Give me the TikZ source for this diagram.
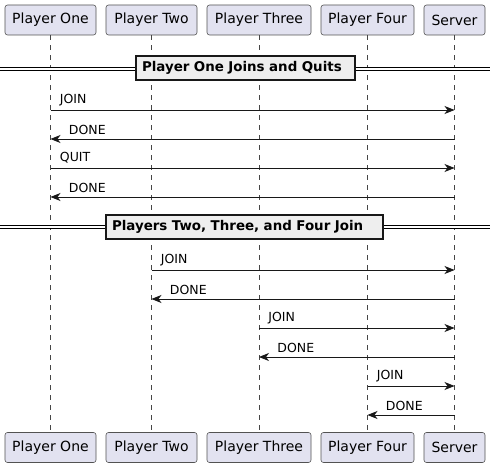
\documentclass[tikz,border=0pt]{standalone}
\usepackage{fontspec}
\setmainfont{DejaVu Sans}
\usetikzlibrary{arrows.meta}
\definecolor{pfill}{HTML}{E2E2F0}
\definecolor{pline}{HTML}{181818}
\definecolor{dfill}{HTML}{EEEEEE}
\begin{document}
\begin{tikzpicture}[x=1pt,y=-1pt,
  part/.style={draw=pline!75, fill=pfill, rounded corners=2.5pt, line width=0.6pt,
    minimum height=30pt, inner sep=0pt, font=\fontsize{14}{16}\selectfont},
  life/.style={draw=pline!80, line width=0.5pt, dash pattern=on 5pt off 5pt},
  msg/.style={draw=pline, line width=0.9pt,
    -{Stealth[length=10pt,width=8pt,inset=3pt]}},
  lbl/.style={font=\fontsize{12.5}{14}\selectfont, inner sep=0pt, text=black},
  sep/.style={draw=black, line width=0.9pt, double=white, double distance=2.2pt},
  divbox/.style={draw=pline, fill=dfill, line width=1.7pt, inner ysep=0pt,
    inner xsep=6pt, align=left, minimum height=24pt,
    font=\bfseries\fontsize{13.4}{15}\selectfont}]
\useasboundingbox (0,0) rectangle (496,468);
% participants (top)
\node[part, minimum width=91pt]  (p1t) at (50.5,20) {Player One};
\node[part, minimum width=91pt]  (p2t) at (151.5,20) {Player Two};
\node[part, minimum width=104pt] (p3t) at (259,20) {Player Three};
\node[part, minimum width=93pt]  (p4t) at (367.5,20) {Player Four};
\node[part, minimum width=61pt]  (svt) at (454.5,20) {Server};
% participants (bottom)
\node[part, minimum width=91pt]  (p1b) at (50.5,447.5) {Player One};
\node[part, minimum width=91pt]  (p2b) at (151.5,447.5) {Player Two};
\node[part, minimum width=104pt] (p3b) at (259,447.5) {Player Three};
\node[part, minimum width=93pt]  (p4b) at (367.5,447.5) {Player Four};
\node[part, minimum width=61pt]  (svb) at (454.5,447.5) {Server};
% lifelines
\foreach \a in {p1,p2,p3,p4,sv}{
  \draw[life] (\a t.south) -- (\a b.north);
}
% dividers
\coordinate (d1l) at (0,69);
\coordinate (d1r) at (490,69);
\draw[sep] (d1l) -- (d1r);
\node[divbox, text width=207pt] (d1) at (245.5,68) {Player One Joins and Quits};
\coordinate (d2l) at (0,227);
\coordinate (d2r) at (490,227);
\draw[sep] (d2l) -- (d2r);
\node[divbox, text width=265pt] (d2) at (244.5,227) {Players Two, Three, and Four Join};
% messages
\draw[msg] (p1t.south |- 0,110) -- (svt.south |- 0,110)
  node[lbl, pos=0, anchor=south west, xshift=9pt, yshift=4pt] {JOIN};
\draw[msg] (svt.south |- 0,139) -- (p1t.south |- 0,139)
  node[lbl, pos=1, anchor=south west, xshift=18pt, yshift=4pt] {DONE};
\draw[msg] (p1t.south |- 0,168) -- (svt.south |- 0,168)
  node[lbl, pos=0, anchor=south west, xshift=9pt, yshift=4pt] {QUIT};
\draw[msg] (svt.south |- 0,197) -- (p1t.south |- 0,197)
  node[lbl, pos=1, anchor=south west, xshift=18pt, yshift=4pt] {DONE};
\draw[msg] (p2t.south |- 0,270) -- (svt.south |- 0,270)
  node[lbl, pos=0, anchor=south west, xshift=9pt, yshift=4pt] {JOIN};
\draw[msg] (svt.south |- 0,299) -- (p2t.south |- 0,299)
  node[lbl, pos=1, anchor=south west, xshift=18pt, yshift=4pt] {DONE};
\draw[msg] (p3t.south |- 0,328) -- (svt.south |- 0,328)
  node[lbl, pos=0, anchor=south west, xshift=9pt, yshift=4pt] {JOIN};
\draw[msg] (svt.south |- 0,357) -- (p3t.south |- 0,357)
  node[lbl, pos=1, anchor=south west, xshift=18pt, yshift=4pt] {DONE};
\draw[msg] (p4t.south |- 0,386) -- (svt.south |- 0,386)
  node[lbl, pos=0, anchor=south west, xshift=9pt, yshift=4pt] {JOIN};
\draw[msg] (svt.south |- 0,415) -- (p4t.south |- 0,415)
  node[lbl, pos=1, anchor=south west, xshift=18pt, yshift=4pt] {DONE};
\end{tikzpicture}
\end{document}
